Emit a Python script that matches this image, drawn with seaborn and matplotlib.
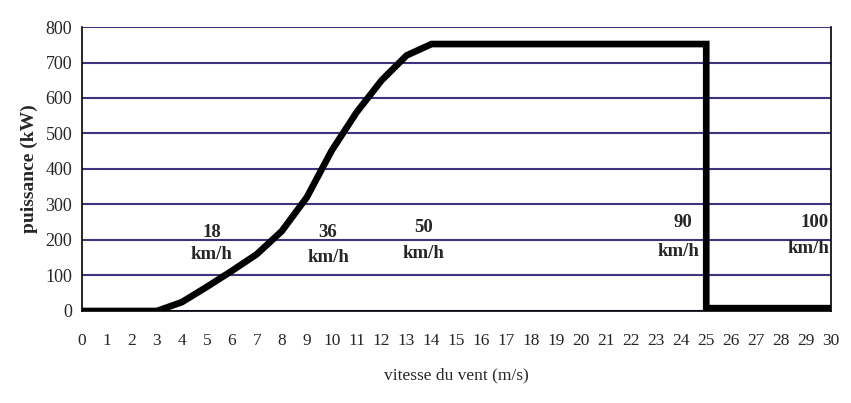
import matplotlib
matplotlib.use("Agg")
import matplotlib.pyplot as plt
import seaborn as sns
import pandas as pd

# Data
wind_speed = [0, 1, 2, 3, 4, 5, 6, 7, 8, 9, 10, 11, 12, 13, 14, 15, 20, 25, 25, 26, 30]
power_kw = [0, 0, 0, 0, 25, 68, 113, 160, 225, 320, 452, 560, 650, 720, 752, 752, 752, 752, 8, 8, 8]
annot_speed = [5.2, 9.85, 13.67, 24.05, 29.35]
annot_value = ["18", "36", "50", "90", "100"]
x_ticks = list(range(0, 31))
y_ticks = list(range(0, 801, 100))

df = pd.DataFrame({"vitesse": wind_speed, "puissance": power_kw})

sns.set_theme(style="white")
plt.rcParams["font.family"] = ["Liberation Serif", "DejaVu Serif"]

fig = plt.figure(figsize=(8.51, 4.03), dpi=100)
ax = fig.add_axes([0.0964, 0.2283, 0.9766 - 0.0964, 0.933 - 0.2283])

grid_color = "#3f327f"
for yv in y_ticks:
    ax.axhline(yv, color=grid_color, lw=1.5, zorder=1)

sns.lineplot(data=df, x="vitesse", y="puissance", sort=False, estimator=None,
             color="black", lw=4.8, ax=ax, zorder=3,
             solid_joinstyle="miter")

ax.set_xlim(0, 30)
ax.set_ylim(0, 800)
ax.set_xticks(x_ticks)
ax.set_xticklabels([str(t) for t in x_ticks], fontsize=12.5)
ax.set_yticks(y_ticks)
ax.set_yticklabels([str(t) for t in y_ticks], fontsize=13)
ax.tick_params(axis="x", direction="out", length=4, width=1, color="black", pad=12)
ax.tick_params(axis="y", direction="out", length=4, width=1, color=grid_color, pad=3)

ax.spines["top"].set_visible(False)
for side in ["left", "bottom", "right"]:
    ax.spines[side].set_color("black")
    ax.spines[side].set_linewidth(1.2)

ax.set_xlabel("vitesse du vent (m/s)", fontsize=12.5, labelpad=13)
ax.set_ylabel("puissance (kW)", fontsize=14, fontweight="bold", labelpad=5)

num_y = [222, 222, 234, 250, 248]
unit_y = [158, 152, 163, 169, 177]
unit_dx = [0, 0, 0, -0.15, -0.25]
for xs, val, ny, uy, dx in zip(annot_speed, annot_value, num_y, unit_y, unit_dx):
    ax.text(xs, ny, val, ha="center", va="center", fontsize=13.5, fontweight="bold")
    ax.text(xs + dx, uy, "km/h", ha="center", va="center", fontsize=13.5, fontweight="bold")

fig.savefig("out.png", dpi=100)
